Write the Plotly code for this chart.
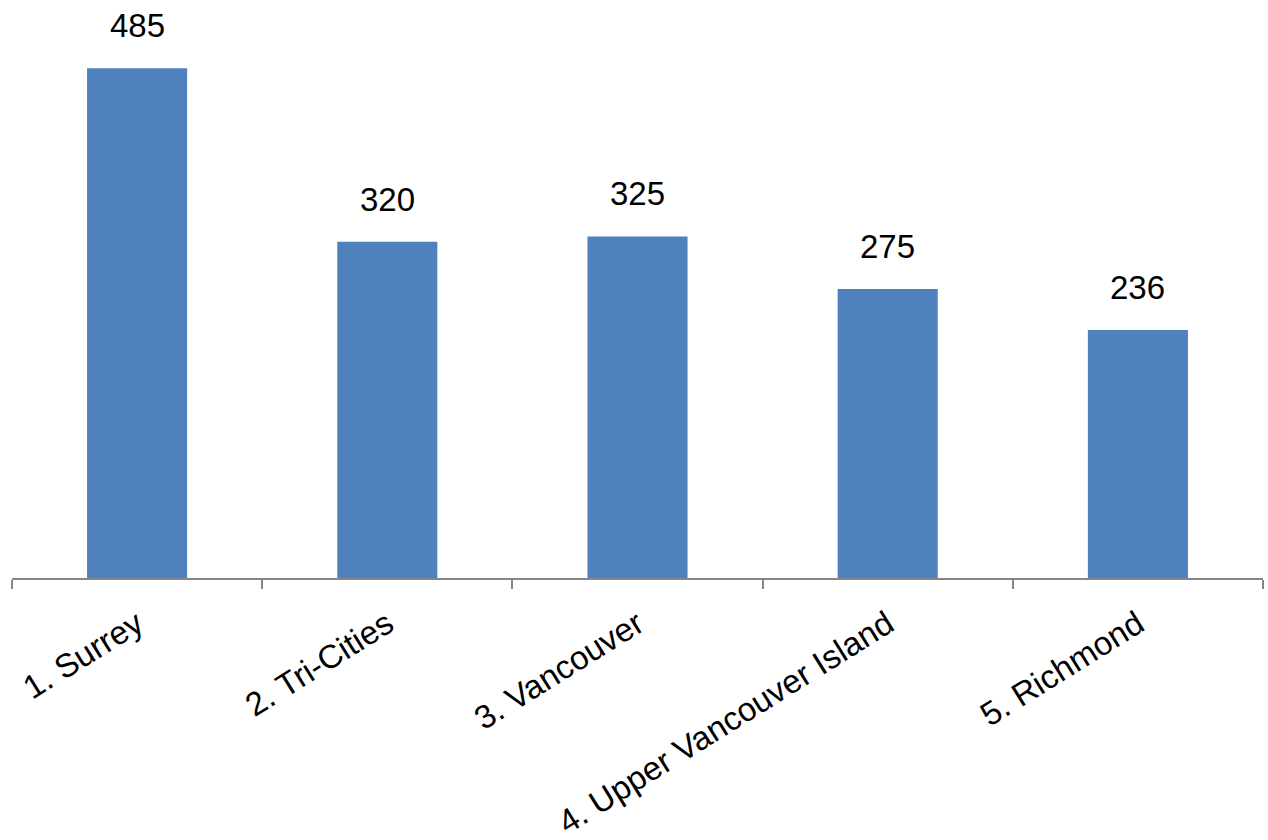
import plotly.graph_objects as go

categories = ["1. Surrey", "2. Tri-Cities", "3. Vancouver", "4. Upper Vancouver Island", "5. Richmond"]
values = [485, 320, 325, 275, 236]

fig = go.Figure()
fig.add_trace(go.Bar(
    x=categories, y=values,
    marker=dict(color="#4F81BD", line=dict(width=0)),
    width=0.4,
))

for c, v in zip(categories, values):
    fig.add_annotation(x=c, y=v, text=str(v), showarrow=False,
                       yanchor="bottom", yshift=22,
                       font=dict(family="Liberation Sans", size=33, color="#000000"))

fig.update_layout(
    width=1268, height=840,
    margin=dict(l=12, r=5, t=0, b=262, autoexpand=False),
    plot_bgcolor="white", paper_bgcolor="white",
    showlegend=False,
    xaxis=dict(
        showline=True, linecolor="#868686", linewidth=2,
        ticks="outside", tickson="boundaries", ticklen=9, tickcolor="#868686", tickwidth=2,
        tickangle=-32, ticklabelstandoff=12, automargin=False,
        tickfont=dict(family="Liberation Sans", size=33, color="#000000"),
        showgrid=False, range=[-0.5, 4.5],
    ),
    yaxis=dict(visible=False, range=[0, 550], showgrid=False, zeroline=False),
)

fig.write_html("out.html")
